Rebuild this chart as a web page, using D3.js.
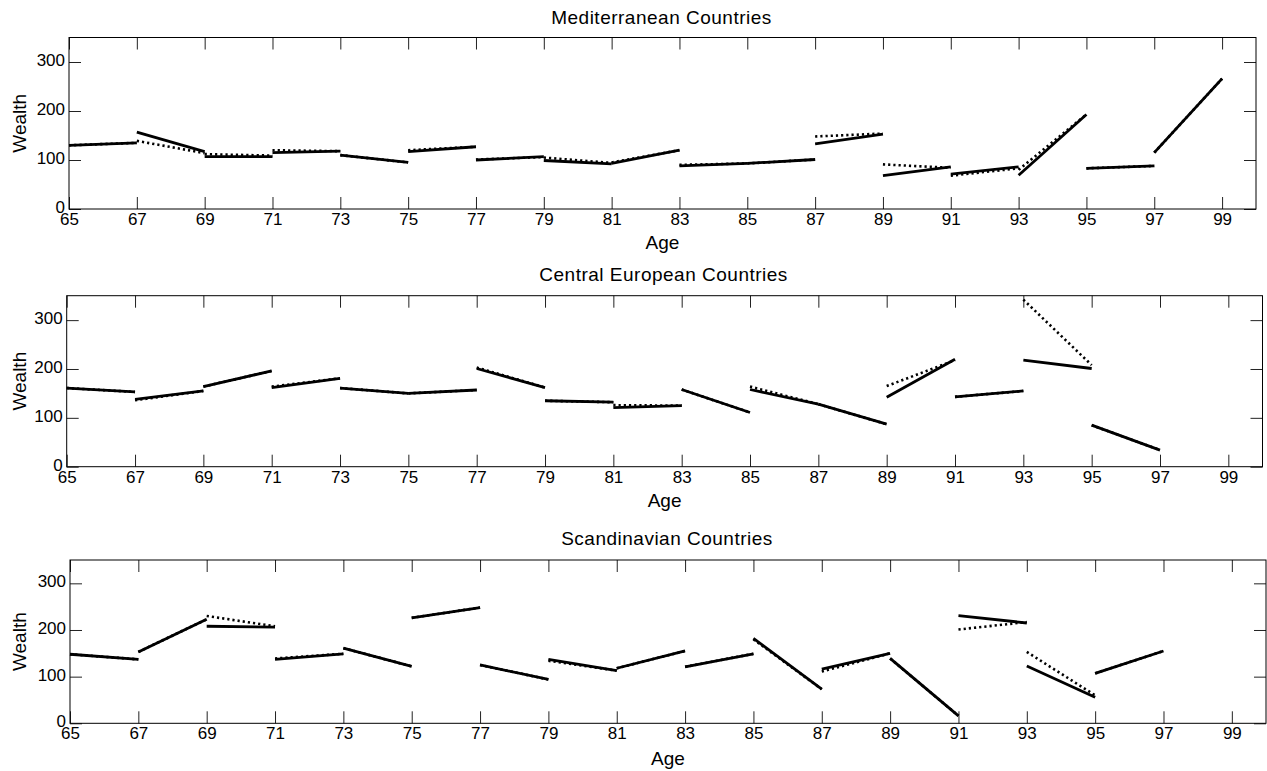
<!DOCTYPE html>
<html>
<head>
<meta charset="utf-8">
<script src="https://cdn.jsdelivr.net/npm/d3@7"></script>
<style>
  html, body { margin: 0; padding: 0; background: #fff; }
  svg { display: block; font-family: "Liberation Sans", Arial, sans-serif; }
</style>
</head>
<body>
<svg id="chart" width="1267" height="771"></svg>
<script>
// ---------- data ----------
const titles = ["Mediterranean Countries", "Central European Countries", "Scandinavian Countries"];
const xTicks = [65, 67, 69, 71, 73, 75, 77, 79, 81, 83, 85, 87, 89, 91, 93, 95, 97, 99];
const yTicks = [0, 100, 200, 300];

// Mediterranean: intervals starting at these ages (2-year spans)
const medAges       = [65, 67, 69, 71, 73, 75, 77, 79, 81, 83, 85, 87, 89, 91, 93, 95, 97];
const medSolidStart = [130, 157, 107, 115, 110, 117, 100, 99, 93, 88, 93, 133, 68, 71, 69, 83, 115];
const medSolidEnd   = [135, 117, 107, 118, 95, 127, 107, 92, 120, 93, 101, 153, 86, 86, 193, 88, 266];
const medDotStart   = [130, 139, 112, 120, 110, 120, 101, 105, 95, 90, 93, 148, 91, 68, 80, 83, 115];
const medDotEnd     = [135, 114, 109, 118, 95, 127, 106, 94, 120, 93, 101, 154, 84, 83, 193, 88, 266];

// Central European
const cenAges       = [65, 67, 69, 71, 73, 75, 77, 79, 81, 83, 85, 87, 89, 91, 93, 95];
const cenSolidStart = [161, 138, 164, 162, 161, 150, 201, 135, 121, 158, 158, 128, 142, 143, 218, 85];
const cenSolidEnd   = [153, 155, 196, 181, 150, 157, 162, 132, 125, 111, 128, 87, 220, 155, 201, 34];
const cenDotStart   = [161, 136, 164, 164, 161, 150, 203, 135, 126, 158, 164, 128, 165, 143, 342, 85];
const cenDotEnd     = [153, 155, 196, 181, 150, 157, 162, 132, 125, 111, 128, 87, 218, 155, 208, 34];

// Scandinavian
const scaAges       = [65, 67, 69, 71, 73, 75, 77, 79, 81, 83, 85, 87, 89, 91, 93, 95];
const scaSolidStart = [148, 153, 208, 137, 161, 226, 125, 137, 118, 121, 182, 116, 139, 231, 123, 107];
const scaSolidEnd   = [137, 223, 206, 149, 122, 248, 94, 113, 155, 149, 73, 150, 16, 215, 56, 155];
const scaDotStart   = [148, 153, 230, 139, 161, 226, 125, 134, 118, 121, 180, 111, 139, 201, 153, 107];
const scaDotEnd     = [137, 223, 208, 149, 122, 248, 94, 113, 155, 149, 73, 150, 16, 217, 60, 155];

const panelsData = [
  { ages: medAges, s0: medSolidStart, s1: medSolidEnd, d0: medDotStart, d1: medDotEnd },
  { ages: cenAges, s0: cenSolidStart, s1: cenSolidEnd, d0: cenDotStart, d1: cenDotEnd },
  { ages: scaAges, s0: scaSolidStart, s1: scaSolidEnd, d0: scaDotStart, d1: scaDotEnd }
];

// ---------- layout ----------
const layouts = [
  { left: 69,   right: 1256,   top: 37.5,  bottom: 209,   titleY: 24,  ageY: 249 },
  { left: 66.7, right: 1262.5, top: 295.7, bottom: 466.7, titleY: 281, ageY: 507 },
  { left: 70,   right: 1266,   top: 560,   bottom: 723.3, titleY: 545, ageY: 765 }
];

const svg = d3.select("#chart");
const span = 2;

panelsData.forEach((pd, i) => {
  const L = layouts[i];
  const x = d3.scaleLinear().domain([65, 100]).range([L.left, L.right]);
  const y = d3.scaleLinear().domain([0, 350]).range([L.bottom, L.top]);
  const g = svg.append("g");

  // ticks (inward)
  const tickLen = 12;
  const bottomAxis = d3.axisBottom(x).tickValues(xTicks).tickSizeInner(-tickLen).tickSizeOuter(0).tickPadding(4).tickFormat(d3.format("d"));
  const topAxis = d3.axisTop(x).tickValues(xTicks).tickSizeInner(-tickLen).tickSizeOuter(0).tickFormat("");
  const leftAxis = d3.axisLeft(y).tickValues(yTicks).tickSizeInner(-tickLen).tickSizeOuter(0).tickPadding(4).tickFormat(d3.format("d"));
  const rightAxis = d3.axisRight(y).tickValues(yTicks).tickSizeInner(-tickLen).tickSizeOuter(0).tickFormat("");

  const axes = [
    g.append("g").attr("transform", `translate(0,${L.bottom})`).call(bottomAxis),
    g.append("g").attr("transform", `translate(0,${L.top})`).call(topAxis),
    g.append("g").attr("transform", `translate(${L.left},0)`).call(leftAxis),
    g.append("g").attr("transform", `translate(${L.right},0)`).call(rightAxis)
  ];
  axes.forEach(a => {
    a.select(".domain").remove();
    a.selectAll(".tick line").attr("stroke", "#222").attr("stroke-width", 1);
    a.selectAll(".tick text").attr("fill", "#000").style("font-size", "17px").style("font-family", "'Liberation Sans', Arial, sans-serif");
  });
  // lift the y tick labels slightly (the "0" sits just above the first age label)
  axes[2].selectAll(".tick text").attr("dy", "0.2em");

  // frame
  g.append("rect")
    .attr("x", L.left).attr("y", L.top)
    .attr("width", L.right - L.left).attr("height", L.bottom - L.top)
    .attr("fill", "none").attr("stroke", "#000").attr("stroke-width", 1);

  // dotted segments
  g.append("g").selectAll("line").data(pd.ages).join("line")
    .attr("x1", (a) => x(a)).attr("x2", (a) => x(a + span))
    .attr("y1", (a, k) => y(pd.d0[k])).attr("y2", (a, k) => y(pd.d1[k]))
    .attr("stroke", "#000").attr("stroke-width", 2.6)
    .attr("stroke-dasharray", "2.2,3");

  // solid segments
  g.append("g").selectAll("line").data(pd.ages).join("line")
    .attr("x1", (a) => x(a)).attr("x2", (a) => x(a + span))
    .attr("y1", (a, k) => y(pd.s0[k])).attr("y2", (a, k) => y(pd.s1[k]))
    .attr("stroke", "#000").attr("stroke-width", 2.8);

  // title
  svg.append("text")
    .attr("x", (L.left + L.right) / 2 - 1).attr("y", L.titleY)
    .attr("text-anchor", "middle")
    .style("font-size", "19px").style("letter-spacing", "0.5px")
    .text(titles[i]);

  // x label
  svg.append("text")
    .attr("x", (L.left + L.right) / 2).attr("y", L.ageY)
    .attr("text-anchor", "middle")
    .style("font-size", "19px")
    .text("Age");

  // y label
  svg.append("text")
    .attr("transform", `translate(26,${(L.top + L.bottom) / 2}) rotate(-90)`)
    .attr("text-anchor", "middle")
    .style("font-size", "19px")
    .text("Wealth");
});
</script>
</body>
</html>
